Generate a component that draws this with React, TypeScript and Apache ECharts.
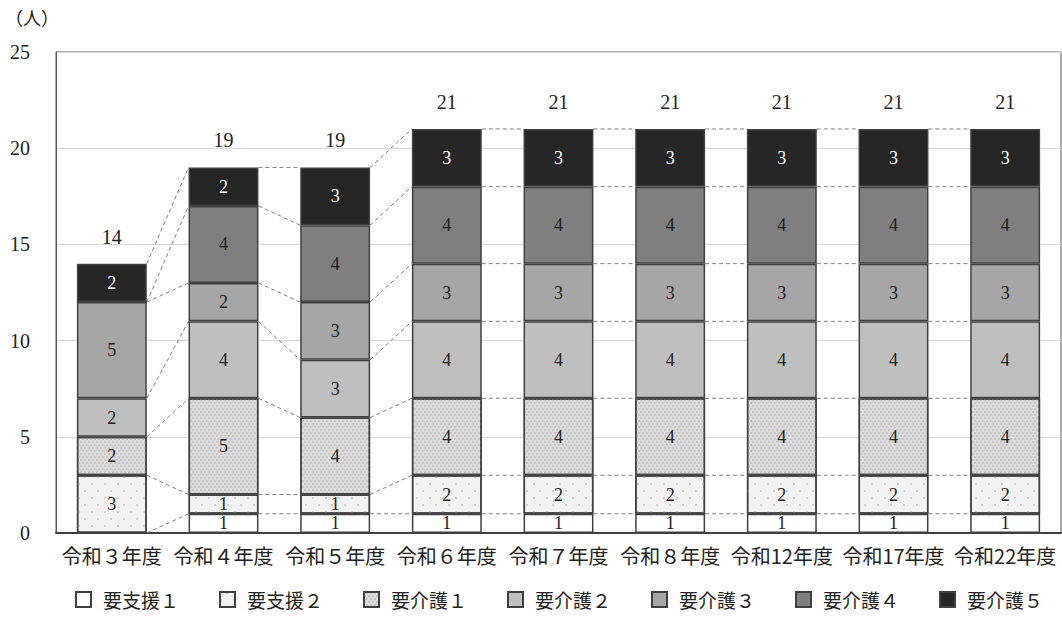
import React, { useEffect, useRef } from "react";
import * as echarts from "echarts";

const categories = ["令和３年度", "令和４年度", "令和５年度", "令和６年度", "令和７年度", "令和８年度", "令和12年度", "令和17年度", "令和22年度"];
const seriesNames = ["要支援１", "要支援２", "要介護１", "要介護２", "要介護３", "要介護４", "要介護５"];
const shien1 = [0, 1, 1, 1, 1, 1, 1, 1, 1];
const shien2 = [3, 1, 1, 2, 2, 2, 2, 2, 2];
const kaigo1 = [2, 5, 4, 4, 4, 4, 4, 4, 4];
const kaigo2 = [2, 4, 3, 4, 4, 4, 4, 4, 4];
const kaigo3 = [5, 2, 3, 3, 3, 3, 3, 3, 3];
const kaigo4 = [0, 4, 4, 4, 4, 4, 4, 4, 4];
const kaigo5 = [2, 2, 3, 3, 3, 3, 3, 3, 3];
const yTicks = [0, 5, 10, 15, 20, 25];

const seriesValues = [shien1, shien2, kaigo1, kaigo2, kaigo3, kaigo4, kaigo5];
const colors = ["#ffffff", "#f2f2f2", "#dcdcdc", "#bfbfbf", "#a6a6a6", "#7f7f7f", "#262626"];
const decals: any[] = [
  null,
  { symbol: "rect", symbolSize: 1, color: "#cfcfcf", dashArrayX: [[2, 11], [0, 6, 2, 5]], dashArrayY: [2, 5] },
  { symbol: "rect", symbolSize: 1, color: "#c4c4c4", dashArrayX: [[2, 2], [0, 2, 2, 0]], dashArrayY: [2, 1] },
  null, null, null, null,
];
const BAR_RATIO = 0.626;
const NUM_FONT = "Liberation Serif";
const JP_FONT = "Noto Sans CJK JP";

export default function App() {
  const ref = useRef<HTMLDivElement>(null);
  useEffect(() => {
    if (!ref.current) return;
    const chart = echarts.init(ref.current, null, { renderer: "svg" });
    const n = categories.length;
    const cum: number[][] = [];
    const run = new Array(n).fill(0);
    seriesValues.forEach((vals) => {
      for (let i = 0; i < n; i++) run[i] += vals[i];
      cum.push(run.slice());
    });
    const totals = run.slice();
    const lineData: number[][] = [];
    cum.forEach((c) => {
      for (let i = 0; i < n - 1; i++) lineData.push([i, c[i], c[i + 1]]);
    });

    const bars = seriesNames.map((name, s) => ({
      name,
      type: "bar",
      stack: "total",
      barWidth: BAR_RATIO * 100 + "%",
      data: seriesValues[s],
      itemStyle: {
        color: colors[s],
        borderColor: "#404040",
        borderWidth: 1.5,
        ...(decals[s] ? { decal: decals[s] } : {}),
      },
      label: {
        show: true,
        position: "inside",
        formatter: (p: any) => (p.value ? String(p.value) : ""),
        fontFamily: NUM_FONT,
        fontSize: 18,
        lineHeight: 18,
        color: s === 6 ? "#ffffff" : "#222222",
      },
      z: 3,
    }));

    chart.setOption({
      animation: false,
      backgroundColor: "#ffffff",
      grid: { left: 56, right: 1, top: 52, bottom: 99, show: true, borderColor: "#595959", borderWidth: 1 },
      graphic: [
        { type: "text", left: 5, top: 8, style: { text: "（人）", fontFamily: JP_FONT, fontSize: 18, fill: "#222" } },
      ],
      legend: {
        data: seriesNames,
        left: 70,
        top: 585,
        itemWidth: 15,
        itemHeight: 15,
        itemGap: 40,
        icon: "rect",
        textStyle: { fontFamily: JP_FONT, fontSize: 19, color: "#222", padding: [0, 0, 0, 7] },
      },
      xAxis: {
        type: "category",
        data: categories,
        axisLine: { lineStyle: { color: "#404040", width: 2 } },
        axisTick: { show: false },
        axisLabel: { interval: 0, fontFamily: JP_FONT, fontSize: 20, color: "#222", margin: 12 },
      },
      yAxis: {
        type: "value",
        min: yTicks[0],
        max: yTicks[yTicks.length - 1],
        interval: 5,
        axisLine: { show: true, lineStyle: { color: "#595959", width: 1 } },
        axisTick: { show: false },
        axisLabel: { fontFamily: NUM_FONT, fontSize: 20, color: "#222", margin: 26 },
        splitLine: { lineStyle: { color: "#d9d9d9", width: 1 } },
      },
      series: [
        {
          type: "custom",
          name: "series-lines",
          data: lineData,
          encode: { x: 0, y: [1, 2] },
          z: 1,
          silent: true,
          renderItem: (params: any, api: any) => {
            const i = api.value(0);
            const a = api.coord([i, api.value(1)]);
            const b = api.coord([i + 1, api.value(2)]);
            const hw = (api.size([1, 0])[0] * BAR_RATIO) / 2;
            return {
              type: "line",
              shape: { x1: a[0] + hw, y1: a[1], x2: b[0] - hw, y2: b[1] },
              style: { stroke: "#7f7f7f", lineWidth: 1, lineDash: [4, 3] },
            };
          },
        },
        ...bars,
        {
          type: "custom",
          name: "totals",
          data: totals.map((t, i) => [i, t]),
          encode: { x: 0, y: 1 },
          z: 4,
          silent: true,
          renderItem: (params: any, api: any) => {
            const p = api.coord([api.value(0), api.value(1)]);
            return {
              type: "text",
              style: {
                text: String(api.value(1)),
                x: p[0],
                y: p[1] - 27,
                align: "center",
                verticalAlign: "middle",
                fontFamily: NUM_FONT,
                fontSize: 20,
                fill: "#222",
              },
            };
          },
        },
      ],
    });
    return () => chart.dispose();
  }, []);
  return <div ref={ref} style={{ width: 1062, height: 632, position: "absolute", left: 0, top: 0 }} />;
}
